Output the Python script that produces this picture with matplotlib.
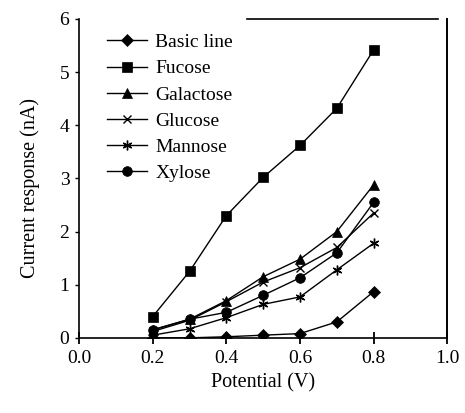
import matplotlib.pyplot as plt
import matplotlib.lines as lines

plt.rcParams['font.family'] = ['Liberation Serif', 'DejaVu Serif']

potential = [0.2, 0.3, 0.4, 0.5, 0.6, 0.7, 0.8]
basic = [0.0, 0.0, 0.02, 0.05, 0.08, 0.30, 0.87]
fucose = [0.40, 1.25, 2.30, 3.02, 3.62, 4.32, 5.42]
galactose = [0.15, 0.35, 0.70, 1.15, 1.48, 2.00, 2.88]
glucose = [0.12, 0.33, 0.68, 1.05, 1.32, 1.70, 2.35]
mannose = [0.05, 0.17, 0.38, 0.63, 0.77, 1.28, 1.78]
xylose = [0.15, 0.35, 0.48, 0.80, 1.13, 1.60, 2.55]

series = [
    ("Basic line", basic, "D", 6),
    ("Fucose", fucose, "s", 6.5),
    ("Galactose", galactose, "^", 7),
    ("Glucose", glucose, "x", 6),
    ("Mannose", mannose, (6, 2, 0), 7),
    ("Xylose", xylose, "o", 7),
]

fig = plt.figure(figsize=(4.65, 4.13), dpi=100)
ax = fig.add_axes([0.170, 0.182, 0.792, 0.772])

for name, vals, mk, ms in series:
    ax.plot(potential, vals, color="black", lw=1.0, marker=mk, markersize=ms,
            markerfacecolor="black", markeredgecolor="black",
            markeredgewidth=1.0 if mk in ("x", (6, 2, 0)) else 0.5, label=name)

ax.set_xlim(0, 1.0)
ax.set_ylim(0, 6)
ax.set_xticks([0.0, 0.2, 0.4, 0.6, 0.8, 1.0])
ax.set_xticklabels(["0.0", "0.2", "0.4", "0.6", "0.8", "1.0"])
ax.set_yticks(range(7))
ax.tick_params(axis="x", labelsize=14, direction="inout", length=8, width=1.3, pad=5)
ax.tick_params(axis="y", labelsize=14, direction="out", length=3, width=1, pad=4)
ax.set_xlabel("Potential (V)", fontsize=14.5, labelpad=4)
ax.set_ylabel("Current response (nA)", fontsize=14.5)
ax.yaxis.set_label_coords(-0.105, 0.47)

for side in ("left", "bottom"):
    ax.spines[side].set_linewidth(1.2)

# the frame is open on the top left in the original
ax.spines["top"].set_visible(False)
ax.spines["right"].set_visible(False)
ax.add_line(lines.Line2D([0.455, 0.975], [1, 1], transform=ax.transAxes,
                         color="black", lw=1.2, clip_on=False))
ax.add_line(lines.Line2D([0.998, 0.998], [0, 1], transform=ax.transAxes,
                         color="black", lw=1.4, clip_on=False))

ax.legend(loc="upper left", frameon=False, fontsize=14, handlelength=2.1,
          handletextpad=0.4, labelspacing=0.44, borderaxespad=0.35,
          bbox_to_anchor=(0.035, 1.0))

plt.savefig("out.png", dpi=100)
